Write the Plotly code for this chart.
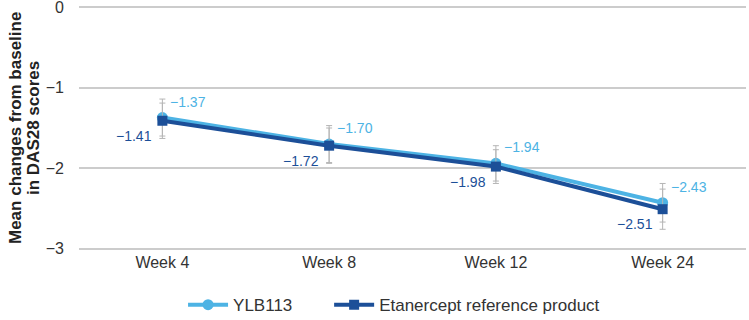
import plotly.graph_objects as go

weeks = ["Week 4", "Week 8", "Week 12", "Week 24"]
ylb113 = [-1.37, -1.70, -1.94, -2.43]
etanercept = [-1.41, -1.72, -1.98, -2.51]
ylb113_err = [0.23, 0.23, 0.22, 0.24]
etanercept_err = [0.22, 0.22, 0.21, 0.25]
y_ticks = [0, -1, -2, -3]
y_tick_labels = ["0", "\u22121", "\u22122", "\u22123"]
y_title_lines = ["Mean changes from baseline", "in DAS28 scores"]

LIGHT = "#4db3e4"
DARK = "#1c4f98"
FONT = "Liberation Sans, Arial, sans-serif"

# plot area geometry (pixels)
ML, MR, MT, MB = 79, 3, 5, 69
W, H = 749, 320
PW = W - ML - MR

fig = go.Figure()
fig.add_trace(go.Scatter(
    x=weeks, y=ylb113, name="YLB113", mode="lines+markers",
    line=dict(color=LIGHT, width=4),
    marker=dict(symbol="circle", size=11, color=LIGHT),
    error_y=dict(type="data", array=ylb113_err, color="#b5b5b5", thickness=1, width=3),
    legend="legend",
))
fig.add_trace(go.Scatter(
    x=weeks, y=etanercept, name="Etanercept reference product", mode="lines+markers",
    line=dict(color=DARK, width=4),
    marker=dict(symbol="square", size=10, color=DARK),
    error_y=dict(type="data", array=etanercept_err, color="#b5b5b5", thickness=1, width=3),
    legend="legend2",
))

def fmt(v):
    return f"{v:.2f}".replace("-", "\u2212")

for w, v in zip(weeks, ylb113):
    fig.add_annotation(x=w, y=v, text=fmt(v), showarrow=False, xanchor="left",
                       yanchor="middle", xshift=6, yshift=16,
                       font=dict(family=FONT, size=14, color=LIGHT))
for w, v in zip(weeks, etanercept):
    fig.add_annotation(x=w, y=v, text=fmt(v), showarrow=False, xanchor="right",
                       yanchor="middle", xshift=-8, yshift=-15,
                       font=dict(family=FONT, size=14, color=DARK))

# rotated two-line y-axis title
for line, px in zip(y_title_lines, [15, 33]):
    fig.add_annotation(xref="paper", yref="paper", x=(px - ML) / PW, y=0.5,
                       text=f"<b>{line}</b>", showarrow=False, textangle=-90,
                       xanchor="center", yanchor="middle",
                       font=dict(family=FONT, size=17, color="#222222"))

legend_common = dict(orientation="h", xanchor="left", y=-0.22, yanchor="middle",
                     font=dict(family=FONT, size=17, color="#333333"),
                     itemwidth=40, bgcolor="rgba(0,0,0,0)")

fig.update_layout(
    width=W, height=H,
    margin=dict(l=ML, r=MR, t=MT, b=MB, autoexpand=False),
    paper_bgcolor="white", plot_bgcolor="white",
    font=dict(family=FONT, size=16, color="#333333"),
    showlegend=True,
    legend=dict(x=0.156, **legend_common),
    legend2=dict(x=0.375, **legend_common),
)
fig.update_xaxes(range=[-0.5, 3.5], showgrid=False, zeroline=False, showline=False,
                 ticks="", automargin=False,
                 tickfont=dict(family=FONT, size=16, color="#333333"))
fig.update_yaxes(range=[-3.03, 0.03], tickvals=y_ticks, ticktext=y_tick_labels,
                 showgrid=True, gridcolor="#cccccc", gridwidth=2, automargin=False,
                 zeroline=False, showline=False, ticks="", ticklabelstandoff=14,
                 ticklabeloverflow="allow",
                 tickfont=dict(family=FONT, size=16, color="#333333"))

fig.write_html("out.html", config={"displayModeBar": False},
               post_script="document.body.style.margin='0';document.body.style.overflow='hidden';")
